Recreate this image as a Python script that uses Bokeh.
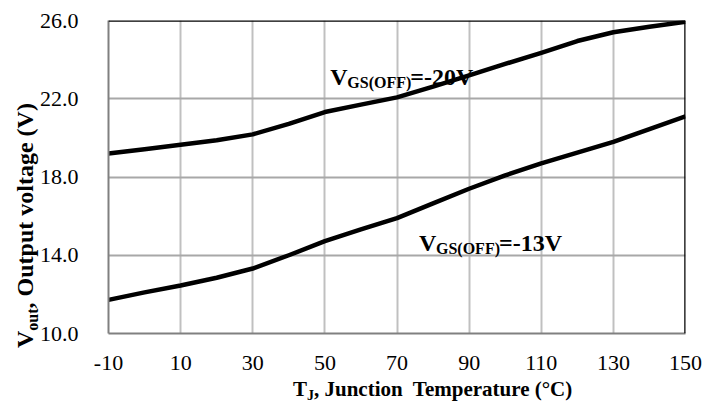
from bokeh.plotting import figure
from bokeh.models import Range1d, FixedTicker, Label, Span, NumeralTickFormatter, Div
from bokeh.layouts import row, column
from bokeh.embed import file_html
from bokeh.resources import INLINE

# ---- data ----
temp_c = [-10, 0, 10, 20, 30, 40, 50, 60, 70, 80, 90, 100, 110, 120, 130, 140, 150]
vout_vgs_m20 = [19.2, 19.42, 19.65, 19.88, 20.18, 20.72, 21.32, 21.7, 22.07, 22.62,
                23.2, 23.78, 24.35, 24.95, 25.4, 25.68, 25.93]
vout_vgs_m13 = [11.72, 12.1, 12.45, 12.85, 13.32, 14.0, 14.72, 15.32, 15.9, 16.65,
                17.4, 18.08, 18.7, 19.25, 19.8, 20.45, 21.1]
x_ticks = [-10, 10, 30, 50, 70, 90, 110, 130, 150]
y_ticks = [10, 14, 18, 22, 26]
x_tick_labels = {t: str(t) for t in x_ticks}

FONT = "Liberation Serif"

p = figure(width=668, height=378, output_backend="svg", toolbar_location=None,
           x_range=Range1d(-10, 150), y_range=Range1d(10, 26),
           min_border_left=69, min_border_right=19, min_border_top=20,
           min_border_bottom=45, margin=0)
p.outline_line_color = None
p.background_fill_color = "white"
p.border_fill_color = None

p.xaxis.ticker = FixedTicker(ticks=x_ticks)
p.xaxis.major_label_overrides = x_tick_labels
p.yaxis.ticker = FixedTicker(ticks=y_ticks)
p.yaxis.formatter = NumeralTickFormatter(format="0.0")
for ax in (p.xaxis, p.yaxis):
    ax.major_tick_line_color = None
    ax.minor_tick_line_color = None
    ax.axis_line_color = "#808080"
    ax.axis_line_width = 2
    ax.major_label_text_font = FONT
    ax.major_label_text_font_size = "22px"
    ax.major_label_text_color = "black"
p.xaxis.major_label_standoff = 16
p.yaxis.major_label_standoff = 24

p.xgrid.grid_line_color = "#c0c0c0"
p.xgrid.grid_line_width = 2
p.ygrid.grid_line_color = "#a8a8a8"
p.ygrid.grid_line_width = 2

p.add_layout(Span(location=26, dimension="width", line_color="black", line_width=2.5))
p.add_layout(Span(location=150, dimension="height", line_color="black", line_width=2.5))

p.line(temp_c, vout_vgs_m20, line_color="black", line_width=4.5, line_join="round")
p.line(temp_c, vout_vgs_m13, line_color="black", line_width=4.5, line_join="round")


def lab(x, y, text, size, dx=0, dy=0):
    p.add_layout(Label(x=x, y=y, text=text, x_offset=dx, y_offset=dy,
                       text_font=FONT, text_font_size=size, text_font_style="bold",
                       text_color="black", text_align="left",
                       text_baseline="alphabetic"))


# curve annotations
for (ax_, ay_, val) in [(51.5, 23.09, "=-20V"), (76.1, 14.61, "=-13V")]:
    lab(ax_, ay_, "V", "24px")
    lab(ax_, ay_, "GS(OFF)", "16px", dx=17, dy=-5)
    lab(ax_, ay_, val, "24px", dx=80)

TXT = ("font-family:'Liberation Serif',serif;font-weight:bold;color:black;"
       "white-space:pre;line-height:1;position:absolute;")

ydiv = Div(width=36, height=402, margin=0,
           styles={"position": "relative", "overflow": "visible"},
           text=(f'<div style="{TXT}font-size:24px;left:13px;top:348px;'
                 'transform:rotate(-90deg);transform-origin:0 0;">'
                 'V<span style="font-size:16px;position:relative;top:5px;">out</span>'
                 ', Output voltage (V)</div>'))

xdiv = Div(width=668, height=24, margin=0,
           styles={"position": "relative", "overflow": "visible"},
           text=(f'<div style="{TXT}font-size:21px;left:257px;top:1px;">'
                 'T<span style="font-size:14px;position:relative;top:4px;">J</span>'
                 ', Junction  Temperature (°C)</div>'))

layout = row(ydiv, column(p, xdiv, spacing=0, margin=0), spacing=0, margin=0)

open("out.html", "w").write(file_html(layout, INLINE))
